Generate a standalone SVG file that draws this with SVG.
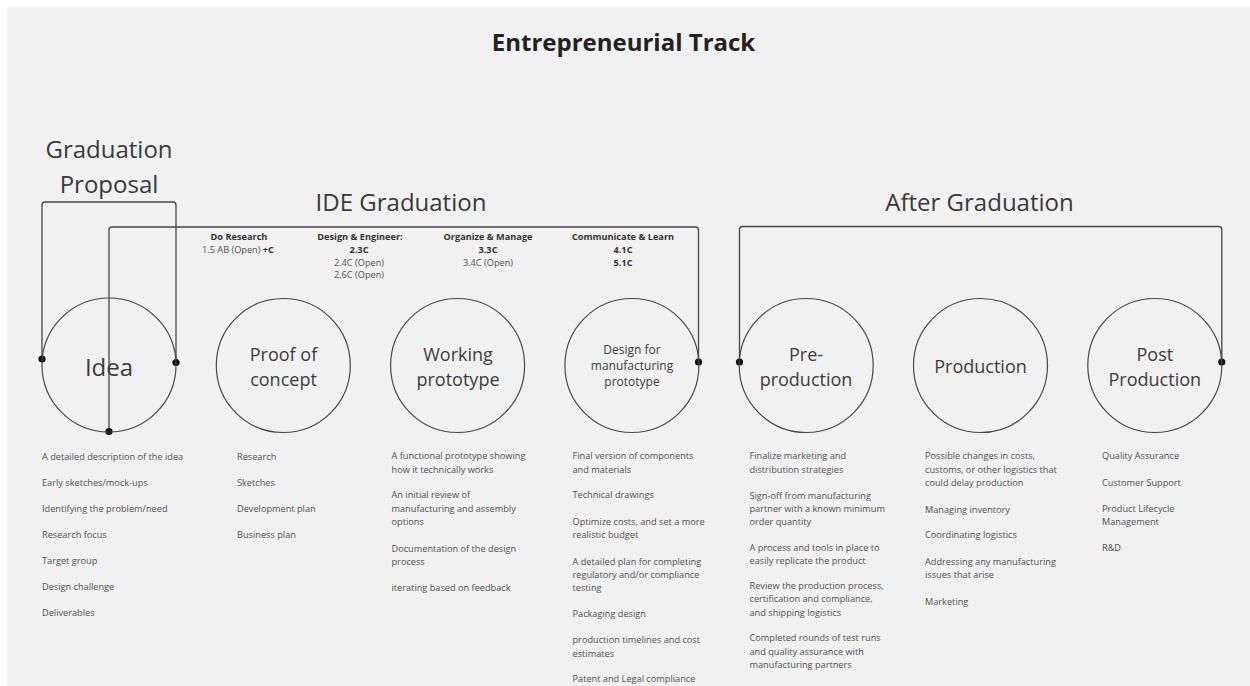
<svg xmlns="http://www.w3.org/2000/svg" width="1250" height="686" viewBox="0 0 1250 686">
<style>
  .bg{fill:#f1f1f1}
  .node{fill:none;stroke:#474747;stroke-width:1.2}
  .lbl{font-family:"Open Sans","Noto Sans",sans-serif;fill:#3c3c3c;text-anchor:middle}
  .big{font-size:24px}
  .mid{font-size:18px}
  .sm{font-size:12px}
  .item{font-family:"Open Sans","Noto Sans",sans-serif;font-size:9.2px;fill:#505050}
  .hd{font-family:"Open Sans","Noto Sans",sans-serif;font-size:9.2px;fill:#505050;text-anchor:middle}
  .hdb{font-weight:bold;fill:#333}
  .title{font-family:"Open Sans","Noto Sans",sans-serif;font-size:24px;font-weight:bold;fill:#222;text-anchor:middle}
  .sec{font-family:"Open Sans","Noto Sans",sans-serif;font-size:24px;fill:#3a3a3a;text-anchor:middle}
  .conn{fill:none;stroke:#474747;stroke-width:1.3}
  .dot{fill:#111}
</style>
<rect x="0" y="0" width="1250" height="686" fill="#ffffff"/>
<rect class="bg" x="7" y="7" width="1243" height="679"/>

<text class="title" x="623.5" y="51">Entrepreneurial Track</text>

<g id="headings">
  <text class="sec" x="109" y="158">Graduation</text>
  <text class="sec" x="109" y="192.5">Proposal</text>
  <text class="sec" x="401" y="211">IDE Graduation</text>
  <text class="sec" x="979.5" y="211">After Graduation</text>
</g>

<g id="competencies">
  <text class="hd" x="239" y="240"><tspan class="hdb">Do Research</tspan></text>
  <text class="hd" x="238" y="253">1.5 AB (Open) <tspan class="hdb">+C</tspan></text>
  <text class="hd" x="360" y="240"><tspan class="hdb">Design &amp; Engineer:</tspan></text>
  <text class="hd" x="359" y="253"><tspan class="hdb">2.3C</tspan></text>
  <text class="hd" x="359" y="265.5">2.4C (Open)</text>
  <text class="hd" x="359" y="278">2.6C (Open)</text>
  <text class="hd" x="488" y="240"><tspan class="hdb">Organize &amp; Manage</tspan></text>
  <text class="hd" x="488" y="253"><tspan class="hdb">3.3C</tspan></text>
  <text class="hd" x="488" y="265.5">3.4C (Open)</text>
  <text class="hd" x="623" y="240"><tspan class="hdb">Communicate &amp; Learn</tspan></text>
  <text class="hd" x="623" y="253"><tspan class="hdb">4.1C</tspan></text>
  <text class="hd" x="623" y="265.5"><tspan class="hdb">5.1C</tspan></text>
</g>

<g id="connectors">
  <path class="conn" d="M42,359 V205 Q42,202 45,202 H173 Q176,202 176,205 V362.5"/>
  <path class="conn" d="M109,431.5 V230 Q109,227 112,227 H695.5 Q698.5,227 698.5,230 V362"/>
  <path class="conn" d="M739.5,362 V229.5 Q739.5,226.5 742.5,226.5 H1218.8 Q1221.8,226.5 1221.8,229.5 V362"/>
  <circle class="dot" cx="42" cy="359" r="3.6"/>
  <circle class="dot" cx="176" cy="362.5" r="3.6"/>
  <circle class="dot" cx="109" cy="431.5" r="3.6"/>
  <circle class="dot" cx="698.5" cy="362" r="3.6"/>
  <circle class="dot" cx="739.5" cy="362" r="3.6"/>
  <circle class="dot" cx="1221.8" cy="362" r="3.6"/>
</g>

<g id="idea">
  <circle class="node" cx="109" cy="365" r="67"/>
  <text class="lbl big" x="109" y="376">Idea</text>
  <text class="item">
    <tspan x="42" y="459.5">A detailed description of the idea</tspan>
    <tspan x="42" y="486">Early sketches/mock-ups</tspan>
    <tspan x="42" y="512">Identifying the problem/need</tspan>
    <tspan x="42" y="538">Research focus</tspan>
    <tspan x="42" y="564">Target group</tspan>
    <tspan x="42" y="590">Design challenge</tspan>
    <tspan x="42" y="616">Deliverables</tspan>
  </text>
</g>

<g id="proof-of-concept">
  <circle class="node" cx="283.3" cy="365.5" r="67"/>
  <text class="lbl mid" x="283.5" y="361">Proof of</text>
  <text class="lbl mid" x="283.5" y="385.5">concept</text>
  <text class="item">
    <tspan x="237" y="459.5">Research</tspan>
    <tspan x="237" y="486">Sketches</tspan>
    <tspan x="237" y="512">Development plan</tspan>
    <tspan x="237" y="538">Business plan</tspan>
  </text>
</g>

<g id="working-prototype">
  <circle class="node" cx="457.6" cy="365.5" r="67"/>
  <text class="lbl mid" x="458" y="361">Working</text>
  <text class="lbl mid" x="458" y="385.5">prototype</text>
  <text class="item">
    <tspan x="391.5" y="459.2">A functional prototype showing</tspan>
    <tspan x="391.5" y="472.5">how it technically works</tspan>
    <tspan x="391.5" y="498.2">An initial review of</tspan>
    <tspan x="391.5" y="511.5">manufacturing and assembly</tspan>
    <tspan x="391.5" y="524.9">options</tspan>
    <tspan x="391.5" y="551.5">Documentation of the design</tspan>
    <tspan x="391.5" y="564.9">process</tspan>
    <tspan x="391.5" y="590.9">iterating based on feedback</tspan>
  </text>
</g>

<g id="design-for-manufacturing">
  <circle class="node" cx="631.9" cy="365.5" r="67"/>
  <text class="lbl sm" x="632" y="354">Design for</text>
  <text class="lbl sm" x="632" y="370">manufacturing</text>
  <text class="lbl sm" x="632" y="385.5">prototype</text>
  <text class="item">
    <tspan x="572.5" y="459.2">Final version of components</tspan>
    <tspan x="572.5" y="472.5">and materials</tspan>
    <tspan x="572.5" y="498.2">Technical drawings</tspan>
    <tspan x="572.5" y="524.9">Optimize costs, and set a more</tspan>
    <tspan x="572.5" y="538.2">realistic budget</tspan>
    <tspan x="572.5" y="564.9">A detailed plan for completing</tspan>
    <tspan x="572.5" y="578.2">regulatory and/or compliance</tspan>
    <tspan x="572.5" y="591.2">testing</tspan>
    <tspan x="572.5" y="617.2">Packaging design</tspan>
    <tspan x="572.5" y="643.2">production timelines and cost</tspan>
    <tspan x="572.5" y="656.5">estimates</tspan>
    <tspan x="572.5" y="681.7">Patent and Legal compliance</tspan>
  </text>
</g>

<g id="pre-production">
  <circle class="node" cx="806.2" cy="365.5" r="67"/>
  <text class="lbl mid" x="806" y="360.7">Pre-</text>
  <text class="lbl mid" x="806" y="386">production</text>
  <text class="item">
    <tspan x="749.5" y="459.2">Finalize marketing and</tspan>
    <tspan x="749.5" y="472.5">distribution strategies</tspan>
    <tspan x="749.5" y="498.7">Sign-off from manufacturing</tspan>
    <tspan x="749.5" y="512">partner with a known minimum</tspan>
    <tspan x="749.5" y="525.4">order quantity</tspan>
    <tspan x="749.5" y="550.9">A process and tools in place to</tspan>
    <tspan x="749.5" y="564.2">easily replicate the product</tspan>
    <tspan x="749.5" y="589">Review the production process,</tspan>
    <tspan x="749.5" y="602.3">certification and compliance,</tspan>
    <tspan x="749.5" y="615.5">and shipping logistics</tspan>
    <tspan x="749.5" y="641.3">Completed rounds of test runs</tspan>
    <tspan x="749.5" y="654.5">and quality assurance with</tspan>
    <tspan x="749.5" y="667.8">manufacturing partners</tspan>
  </text>
</g>

<g id="production">
  <circle class="node" cx="980.5" cy="365.5" r="67"/>
  <text class="lbl mid" x="980.5" y="373.3">Production</text>
  <text class="item">
    <tspan x="925" y="459.2">Possible changes in costs,</tspan>
    <tspan x="925" y="472.5">customs, or other logistics that</tspan>
    <tspan x="925" y="485.9">could delay production</tspan>
    <tspan x="925" y="512.5">Managing inventory</tspan>
    <tspan x="925" y="538.2">Coordinating logistics</tspan>
    <tspan x="925" y="564.9">Addressing any manufacturing</tspan>
    <tspan x="925" y="578.2">issues that arise</tspan>
    <tspan x="925" y="604.9">Marketing</tspan>
  </text>
</g>

<g id="post-production">
  <circle class="node" cx="1154.8" cy="365.5" r="67"/>
  <text class="lbl mid" x="1154.8" y="360.7">Post</text>
  <text class="lbl mid" x="1154.8" y="386">Production</text>
  <text class="item">
    <tspan x="1102" y="459.2">Quality Assurance</tspan>
    <tspan x="1102" y="485.9">Customer Support</tspan>
    <tspan x="1102" y="511.5">Product Lifecycle</tspan>
    <tspan x="1102" y="524.9">Management</tspan>
    <tspan x="1102" y="550.5">R&amp;D</tspan>
  </text>
</g>
</svg>
